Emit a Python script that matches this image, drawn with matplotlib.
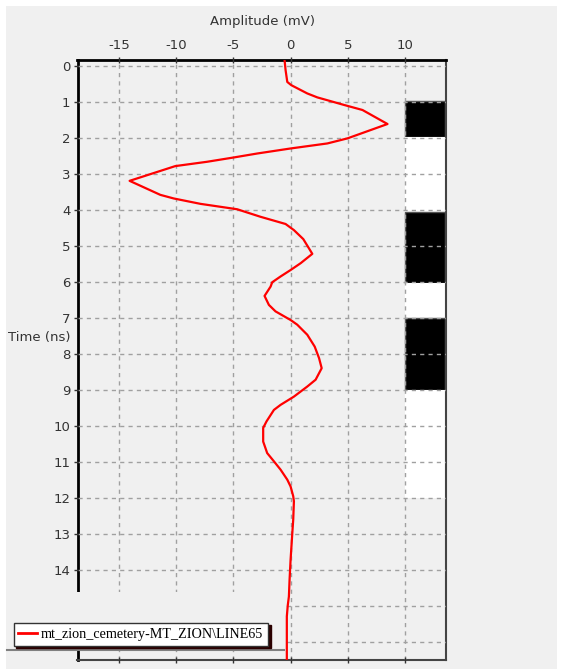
import numpy as np
import matplotlib as mpl
mpl.use('Agg')
import matplotlib.pyplot as plt
from matplotlib.patches import Rectangle
from matplotlib.lines import Line2D

mpl.rcParams['axes.unicode_minus'] = False

# Trace data (time in ns, amplitude in mV)
time_ns = [-0.17, 0.11, 0.44, 0.53, 0.76, 0.87, 1.08, 1.22, 1.61, 2.01, 2.15, 2.29,
           2.43, 2.54, 2.66, 2.78, 3.19, 3.58, 3.68, 3.83, 3.98, 4.19, 4.39, 4.56,
           4.81, 5.22, 5.48, 5.67, 5.85, 6.01, 6.13, 6.39, 6.64, 6.82, 7.06, 7.19,
           7.47, 7.80, 8.12, 8.40, 8.72, 8.91, 9.19, 9.42, 9.56, 9.88, 10.06, 10.44,
           10.76, 10.99, 11.22, 11.50, 11.69, 11.96, 12.10, 12.61, 12.98, 13.72,
           14.28, 14.75, 15.0, 15.3, 16.6]
amp_mv = [-0.53, -0.44, -0.29, 0.06, 1.46, 2.34, 4.68, 6.29, 8.48, 4.97, 3.22, 0.0,
          -2.92, -4.97, -7.31, -10.09, -14.09, -11.4, -10.23, -7.89, -4.68, -2.63, -0.44, 0.29,
          1.11, 1.90, 0.88, 0.0, -0.88, -1.61, -1.75, -2.28, -1.90, -1.32, 0.0, 0.58,
          1.46, 2.11, 2.49, 2.72, 2.19, 1.46, 0.29, -0.88, -1.46, -2.11, -2.40, -2.40,
          -2.05, -1.46, -0.88, -0.29, 0.0, 0.23, 0.29, 0.23, 0.15, 0.0,
          -0.09, -0.15, -0.25, -0.33, -0.33]

# Polarity column segments (start ns, end ns, colour)
seg_start = [0.97, 1.98, 4.07, 6.02, 7.0, 9.0]
seg_end = [1.98, 4.07, 6.02, 7.0, 9.0, 12.0]
seg_color = ['black', 'white', 'black', 'white', 'black', 'white']

x_ticks = [-15, -10, -5, 0, 5, 10]
y_ticks = list(range(0, 17))
y_labels = [str(t) if t <= 14 else '' for t in y_ticks]
legend_label = 'mt_zion_cemetery-MT_ZION\\LINE65'

W, H = 563, 669
bg = '#f0f0f0'


def fx(px):
    return px / W


def fy(py):
    return 1 - py / H


fig = plt.figure(figsize=(W / 100, H / 100), dpi=100, facecolor='white')
# grey panel behind everything
fig.patches.append(Rectangle((fx(6), fy(669)), fx(557) - fx(6), fy(6) - fy(669),
                             transform=fig.transFigure, facecolor=bg, edgecolor='none', zorder=-10))

ax = fig.add_axes([fx(77.5), fy(659.5), fx(446) - fx(77.5), fy(60) - fy(659.5)])
ax.set_facecolor(bg)
ax.set_xlim(-18.65, 13.6)
ax.set_ylim(16.5, -0.17)

# polarity column
for s, e, c in zip(seg_start, seg_end, seg_color):
    ax.add_patch(Rectangle((10, s), 3.5, e - s, facecolor=c,
                           edgecolor='#555555' if c == 'black' else 'none', lw=1, zorder=1))

ax.plot(amp_mv, time_ns, color='red', lw=1.6, zorder=3)

ax.xaxis.tick_top()
ax.xaxis.set_label_position('top')
ax.set_xticks(x_ticks)
ax.set_yticks(y_ticks)
ax.set_yticklabels(y_labels)
ax.tick_params(axis='x', direction='inout', length=5, width=1, colors='#333333',
               labelsize=9.5, pad=3, top=True, bottom=True)
ax.tick_params(axis='y', direction='out', length=3, width=1, colors='#333333',
               labelsize=9.5, pad=2, right=False)
ax.grid(True, color='#a0a0a0', linestyle=(0, (3, 3)), lw=1, zorder=2)
ax.set_axisbelow(False)

for side in ['left', 'top']:
    ax.spines[side].set_linewidth(2)
    ax.spines[side].set_color('black')
for side in ['right', 'bottom']:
    ax.spines[side].set_linewidth(1.5)
    ax.spines[side].set_color('#444444')

fig.text(fx(262), fy(21), 'Amplitude (mV)', ha='center', va='center',
         fontsize=9.5, color='#333333', family='DejaVu Sans')
fig.text(fx(8), fy(337), 'Time (ns)', ha='left', va='center',
         fontsize=9.5, color='#333333', family='DejaVu Sans')

# overlay panel hiding the lower left of the plot, with the legend in it
fig.patches.append(Rectangle((fx(6), fy(649)), fx(284) - fx(6), fy(592) - fy(649),
                             transform=fig.transFigure, facecolor=bg, edgecolor='none', zorder=5))
fig.lines.append(Line2D([fx(6.5), fx(283.5)], [fy(649.5), fy(649.5)], transform=fig.transFigure,
                        color='#808080', lw=1.5, zorder=6))

handle = Line2D([], [], color='red', lw=2)
leg = fig.legend([handle], [legend_label], loc='lower left',
                 bbox_to_anchor=(fx(13.5), fy(645.5)), borderaxespad=0,
                 frameon=True, fancybox=False, shadow={'color': '#2a0000', 'alpha': 1},
                 prop={'family': 'Liberation Serif', 'size': 10.2}, handlelength=1.3,
                 handletextpad=0.3, borderpad=0.35)
leg.get_frame().set_facecolor('white')
leg.get_frame().set_edgecolor('#333333')
leg.get_frame().set_linewidth(1)
leg.set_zorder(8)

fig.savefig('out.png', dpi=100, facecolor='white')
